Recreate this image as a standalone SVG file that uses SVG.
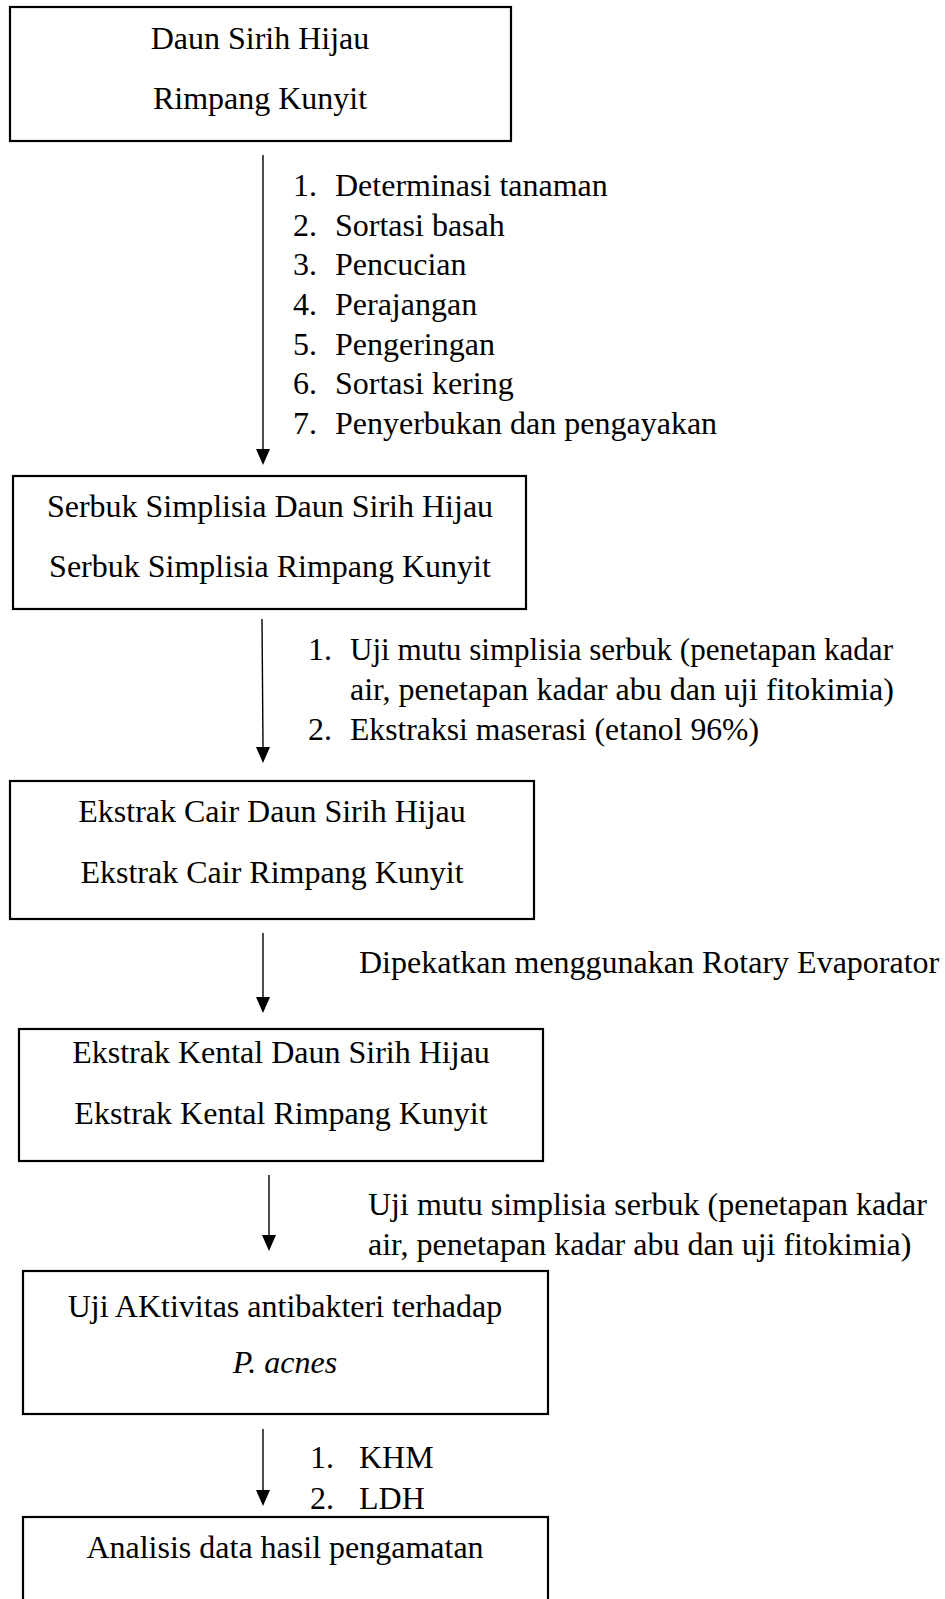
<svg xmlns="http://www.w3.org/2000/svg" width="945" height="1599" viewBox="0 0 945 1599">
<style>
.box{fill:#fff;stroke:#000;stroke-width:2.2}
.t{font-family:"Liberation Serif","Times New Roman",serif;font-size:32px;fill:#000}
.c{text-anchor:middle}
.ln{stroke:#000;stroke-width:1.4;fill:none}
</style>
<rect width="945" height="1599" fill="#fff"/>
<g id="connectors">
<line class="ln" x1="263" y1="155" x2="263" y2="449"/>
<path d="M256,449 L270,449 L263,465 Z" fill="#000"/>
<line class="ln" x1="262" y1="619" x2="263" y2="747"/>
<path d="M256,747 L270,747 L263,763 Z" fill="#000"/>
<line class="ln" x1="263" y1="933" x2="263" y2="997"/>
<path d="M256,997 L270,997 L263,1013 Z" fill="#000"/>
<line class="ln" x1="269" y1="1175" x2="269" y2="1235"/>
<path d="M262,1235 L276,1235 L269,1251 Z" fill="#000"/>
<line class="ln" x1="263" y1="1429" x2="263" y2="1490"/>
<path d="M256,1490 L270,1490 L263,1506 Z" fill="#000"/>
</g>
<g id="label1">
<text class="t" x="293" y="196">1.</text><text class="t" x="335" y="196">Determinasi tanaman</text>
<text class="t" x="293" y="236">2.</text><text class="t" x="335" y="236">Sortasi basah</text>
<text class="t" x="293" y="275">3.</text><text class="t" x="335" y="275">Pencucian</text>
<text class="t" x="293" y="315">4.</text><text class="t" x="335" y="315">Perajangan</text>
<text class="t" x="293" y="355">5.</text><text class="t" x="335" y="355">Pengeringan</text>
<text class="t" x="293" y="394">6.</text><text class="t" x="335" y="394">Sortasi kering</text>
<text class="t" x="293" y="434">7.</text><text class="t" x="335" y="434">Penyerbukan dan pengayakan</text>
</g>
<g id="label2">
<text class="t" x="308" y="660">1.</text><text class="t" x="350" y="660" textLength="543" lengthAdjust="spacingAndGlyphs">Uji mutu simplisia serbuk (penetapan kadar</text>
<text class="t" x="350" y="700" textLength="544" lengthAdjust="spacingAndGlyphs">air, penetapan kadar abu dan uji fitokimia)</text>
<text class="t" x="308" y="740">2.</text><text class="t" x="350" y="740" textLength="409" lengthAdjust="spacingAndGlyphs">Ekstraksi maserasi (etanol 96%)</text>
</g>
<g id="label3">
<text class="t" x="359" y="973">Dipekatkan menggunakan Rotary Evaporator</text>
</g>
<g id="label4">
<text class="t" x="368" y="1215">Uji mutu simplisia serbuk (penetapan kadar</text>
<text class="t" x="368" y="1255">air, penetapan kadar abu dan uji fitokimia)</text>
</g>
<g id="label5">
<text class="t" x="310" y="1468">1.</text><text class="t" x="359" y="1468">KHM</text>
<text class="t" x="310" y="1509">2.</text><text class="t" x="359" y="1509">LDH</text>
</g>
<g id="node1">
<rect class="box" x="10" y="7" width="501" height="134"/>
<text class="t c" x="260" y="49">Daun Sirih Hijau</text>
<text class="t c" x="260" y="109">Rimpang Kunyit</text>
</g>
<g id="node2">
<rect class="box" x="13" y="476" width="513" height="133"/>
<text class="t c" x="270" y="517">Serbuk Simplisia Daun Sirih Hijau</text>
<text class="t c" x="270" y="577">Serbuk Simplisia Rimpang Kunyit</text>
</g>
<g id="node3">
<rect class="box" x="10" y="781" width="524" height="138"/>
<text class="t c" x="272" y="822">Ekstrak Cair Daun Sirih Hijau</text>
<text class="t c" x="272" y="883">Ekstrak Cair Rimpang Kunyit</text>
</g>
<g id="node4">
<rect class="box" x="19" y="1029" width="524" height="132"/>
<text class="t c" x="281" y="1063">Ekstrak Kental Daun Sirih Hijau</text>
<text class="t c" x="281" y="1124">Ekstrak Kental Rimpang Kunyit</text>
</g>
<g id="node5">
<rect class="box" x="23" y="1271" width="525" height="143"/>
<text class="t c" x="285" y="1317">Uji AKtivitas antibakteri terhadap</text>
<text class="t c" x="285" y="1373" font-style="italic">P. acnes</text>
</g>
<g id="node6">
<rect class="box" x="23" y="1517" width="525" height="110"/>
<text class="t c" x="285" y="1558">Analisis data hasil pengamatan</text>
</g>
</svg>
